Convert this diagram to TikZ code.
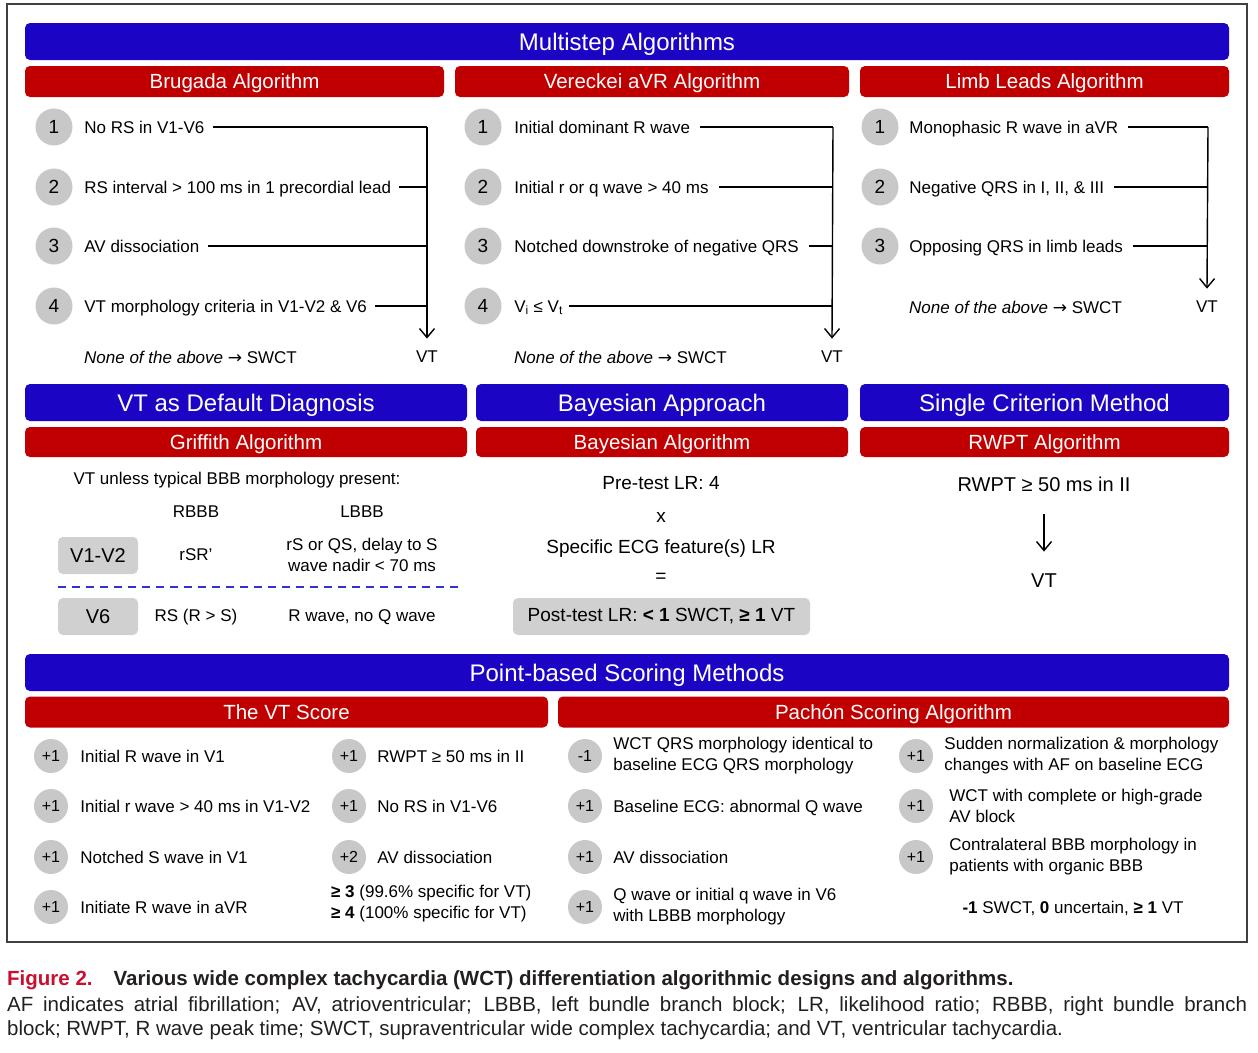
\documentclass[tikz,border=0pt]{standalone}
\usepackage{fontspec}
\setmainfont{Liberation Sans}
\newfontfamily\arrowfont{DejaVu Sans}
\usepackage{tikz}
\usetikzlibrary{arrows.meta,positioning}

\definecolor{bandblue}{RGB}{28,4,196}
\definecolor{algred}{RGB}{192,0,0}
\definecolor{dotgray}{RGB}{200,200,200}
\definecolor{boxgray}{RGB}{208,208,208}
\definecolor{figred}{RGB}{200,16,46}
\definecolor{captext}{RGB}{35,31,32}
\definecolor{sepblue}{RGB}{50,50,210}

\newcommand{\bandfont}{\fontsize{24}{29}\selectfont}
\newcommand{\headfont}{\fontsize{20.5}{24}\selectfont}
\newcommand{\itemfont}{\fontsize{17}{21}\selectfont}
\newcommand{\numfont}{\fontsize{19}{23}\selectfont}
\newcommand{\ptfont}{\fontsize{16}{19}\selectfont}
\newcommand{\bayfont}{\fontsize{19}{23}\selectfont}
\newcommand{\capfont}{\fontsize{20.5}{24.5}\selectfont}
\newcommand{\toswct}{{\arrowfont →}\ SWCT}

\begin{document}
\begin{tikzpicture}[
    x=1pt, y=-1pt,
    >={Straight Barb[length=9pt,width=15pt]},
    bandbar/.style={fill=bandblue, rounded corners=5pt, text=white, font=\bandfont, minimum height=37pt, inner sep=0pt, text height=17.2pt, text depth=0pt},
    algbar/.style={fill=algred, rounded corners=5pt, text=white, font=\headfont, minimum height=31pt, inner sep=0pt, text height=14.7pt, text depth=0pt},
    numdot/.style={circle, fill=dotgray, minimum size=37pt, inner sep=0pt, font=\numfont},
    ptdot/.style={circle, fill=dotgray, minimum size=34pt, inner sep=0pt, font=\ptfont},
    crit/.style={font=\itemfont, inner sep=0pt, anchor=west, text height=12.2pt, text depth=0pt},
    crit2/.style={font=\itemfont, inner sep=0pt, anchor=west, align=left},
    plain/.style={font=\itemfont, align=center},
    bayes/.style={font=\bayfont, align=center},
    lead/.style={fill=boxgray, rounded corners=5pt, minimum width=80pt, minimum height=37pt, font=\fontsize{20}{24}\selectfont},
    link/.style={line width=1.4pt},
    capline/.style={font=\capfont, text=captext, inner sep=0pt, anchor=west},
]
\useasboundingbox (0,0) rectangle (1258,1052);

% Frame
\draw[line width=2pt, draw=black!75] (7,4) rectangle (1247,942);

% Multistep band
\node[bandbar, minimum width=1204pt] (multi) at (627,41.5) {Multistep Algorithms};
\node[algbar, minimum width=419pt] (brugada) at (234.5,81.5) {Brugada Algorithm};
\node[algbar, minimum width=394pt] (vereckei) at (652,81.5) {Vereckei aVR Algorithm};
\node[algbar, minimum width=369pt] (limb) at (1044.5,81.5) {Limb Leads Algorithm};

% Brugada steps
\node[numdot] (b1) at (54,127) {1};
\node[crit, right=11.5pt of b1] (b1t) {No RS in V1-V6};
\node[numdot] (b2) at (54,187) {2};
\node[crit, right=11.5pt of b2] (b2t) {RS interval > 100 ms in 1 precordial lead};
\node[numdot] (b3) at (54,246) {3};
\node[crit, right=11.5pt of b3] (b3t) {AV dissociation};
\node[numdot] (b4) at (54,306) {4};
\node[crit, right=11.5pt of b4] (b4t) {VT morphology criteria in V1-V2 \& V6};
\node[crit] (bnone) at (84,357) {\textit{None of the above} \toswct};
\node[plain] (bvt) at (427,357) {VT};
\coordinate (bjoin) at (427,127);

\draw[link] ([xshift=8pt]b1t.east) -- (bjoin);
\draw[link] ([xshift=8pt]b2t.east) -- (b2t.east -| bjoin);
\draw[link] ([xshift=8pt]b3t.east) -- (b3t.east -| bjoin);
\draw[link] ([xshift=8pt]b4t.east) -- (b4t.east -| bjoin);
\draw[link,->] (bjoin) -- ([yshift=9pt]bvt.north);

% Vereckei steps
\node[numdot] (a1) at (483,127) {1};
\node[crit, right=12.5pt of a1] (a1t) {Initial dominant R wave};
\node[numdot] (a2) at (483,187) {2};
\node[crit, right=12.5pt of a2] (a2t) {Initial r or q wave > 40 ms};
\node[numdot] (a3) at (483,246) {3};
\node[crit, right=12.5pt of a3] (a3t) {Notched downstroke of negative QRS};
\node[numdot] (a4) at (483,306) {4};
\node[crit, right=12.5pt of a4] (a4t) {V\textsubscript{i} ≤ V\textsubscript{t}};
\node[crit] (anone) at (514,357) {\textit{None of the above} \toswct};
\node[plain] (avt) at (832,357) {VT};
\coordinate (ajoin) at (833,127);

\draw[link] ([xshift=10pt]a1t.east) -- (ajoin);
\draw[link] ([xshift=10pt]a2t.east) -- (a2t.east -| ajoin);
\draw[link] ([xshift=10pt]a3t.east) -- (a3t.east -| ajoin);
\draw[link] ([xshift=6pt]a4t.east) -- (a4t.east -| ajoin);
\draw[link,->] (ajoin) -- ([yshift=9pt]avt.north);

% Limb lead steps
\node[numdot] (l1) at (880,127) {1};
\node[crit, right=10.5pt of l1] (l1t) {Monophasic R wave in aVR};
\node[numdot] (l2) at (880,187) {2};
\node[crit, right=10.5pt of l2] (l2t) {Negative QRS in I, II, \& III};
\node[numdot] (l3) at (880,246) {3};
\node[crit, right=10.5pt of l3] (l3t) {Opposing QRS in limb leads};
\node[crit] (lnone) at (909,307) {\textit{None of the above} \toswct};
\node[plain] (lvt) at (1207,307) {VT};
\coordinate (ljoin) at (1208,127);

\draw[link] ([xshift=10pt]l1t.east) -- (ljoin);
\draw[link] ([xshift=10pt]l2t.east) -- (l2t.east -| ljoin);
\draw[link] ([xshift=10pt]l3t.east) -- (l3t.east -| ljoin);
\draw[link,->] (ljoin) -- ([yshift=9pt]lvt.north);

% Second band
\node[bandbar, minimum width=442pt] (default) at (246,402.5) {VT as Default Diagnosis};
\node[bandbar, minimum width=372pt] (bayesian) at (662,402.5) {Bayesian Approach};
\node[bandbar, minimum width=369pt] (single) at (1044.5,402.5) {Single Criterion Method};
\node[algbar, minimum width=442pt, minimum height=30pt] (griffith) at (246,442) {Griffith Algorithm};
\node[algbar, minimum width=372pt, minimum height=30pt] (bayesalg) at (662,442) {Bayesian Algorithm};
\node[algbar, minimum width=369pt, minimum height=30pt] (rwpt) at (1044.5,442) {RWPT Algorithm};

% Griffith table
\node[plain] (gintro) at (237,480) {VT unless typical BBB morphology present:};
\node[plain] (grbbb) at (196,512) {RBBB};
\node[plain] (glbbb) at (362,512) {LBBB};
\node[lead] (gv12) at (98,555.5) {V1-V2};
\node[plain] (grsr) at (196,555) {rSR'};
\node[plain] (glqs) at (362,555) {rS or QS, delay to S\\wave nadir < 70 ms};
\draw[sepblue, line width=1.5pt, dash pattern=on 8pt off 6pt] (58,587) -- (458,587);
\node[lead] (gv6) at (98,616.5) {V6};
\node[plain] (grs) at (196,617) {RS (R > S)};
\node[plain] (glr) at (362,617) {R wave, no Q wave};

% Bayesian
\node[bayes] (bpre) at (661,483) {Pre-test LR: 4};
\node[bayes] (btimes) at (661,517) {x};
\node[bayes] (bfeat) at (661,549) {Specific ECG feature(s) LR};
\node[bayes] (beq) at (661,578) {=};
\node[lead, bayes, minimum width=297pt] (bpost) at (661.5,616.5) {Post-test LR: \textbf{< 1} SWCT, \textbf{≥ 1} VT};

% Single criterion
\node[bayes, font=\fontsize{20}{24}\selectfont] (scrit) at (1044,484) {RWPT ≥ 50 ms in II};
\node[bayes, font=\fontsize{20}{24}\selectfont] (svt) at (1044,581) {VT};
\draw[link,->, shorten <=19pt, shorten >=19pt] (scrit) -- (svt);

% Point-based band
\node[bandbar, minimum width=1204pt] (points) at (627,672.5) {Point-based Scoring Methods};
\node[algbar, minimum width=523pt] (vtscore) at (286.5,712) {The VT Score};
\node[algbar, minimum width=671pt] (pachon) at (893.5,712) {Pachón Scoring Algorithm};

% VT score items
\node[ptdot] (v1) at (51,756) {+1};
\node[crit, right=12pt of v1] (v1t) {Initial R wave in V1};
\node[ptdot] (v2) at (51,806) {+1};
\node[crit, right=12pt of v2] (v2t) {Initial r wave > 40 ms in V1-V2};
\node[ptdot] (v3) at (51,857) {+1};
\node[crit, right=12pt of v3] (v3t) {Notched S wave in V1};
\node[ptdot] (v4) at (51,907) {+1};
\node[crit, right=12pt of v4] (v4t) {Initiate R wave in aVR};
\node[ptdot] (v5) at (349,756) {+1};
\node[crit, right=11pt of v5] (v5t) {RWPT ≥ 50 ms in II};
\node[ptdot] (v6) at (349,806) {+1};
\node[crit, right=11pt of v6] (v6t) {No RS in V1-V6};
\node[ptdot] (v7) at (349,857) {+2};
\node[crit, right=11pt of v7] (v7t) {AV dissociation};
\node[crit2] (vcut) at (331,904) {\textbf{≥ 3} (99.6\% specific for VT)\\\textbf{≥ 4} (100\% specific for VT)};

% Pachon items
\node[ptdot] (p1) at (585,756) {-1};
\node[crit2, right=11pt of p1] (p1t) {WCT QRS morphology identical to\\baseline ECG QRS morphology};
\node[ptdot] (p2) at (585,806) {+1};
\node[crit, right=11pt of p2] (p2t) {Baseline ECG: abnormal Q wave};
\node[ptdot] (p3) at (585,857) {+1};
\node[crit, right=11pt of p3] (p3t) {AV dissociation};
\node[ptdot] (p4) at (585,907) {+1};
\node[crit2, right=11pt of p4] (p4t) {Q wave or initial q wave in V6\\with LBBB morphology};
\node[ptdot] (p5) at (916,756) {+1};
\node[crit2, right=11pt of p5] (p5t) {Sudden normalization \& morphology\\changes with AF on baseline ECG};
\node[ptdot] (p6) at (916,806) {+1};
\node[crit2, right=16pt of p6] (p6t) {WCT with complete or high-grade\\AV block};
\node[ptdot] (p7) at (916,857) {+1};
\node[crit2, right=16pt of p7] (p7t) {Contralateral BBB morphology in\\patients with organic BBB};
\node[plain] (psum) at (1073,908) {\textbf{-1} SWCT, \textbf{0} uncertain, \textbf{≥ 1} VT};

% Caption
\node[capline] (captitle) at (7,980) {\textbf{\textcolor{figred}{Figure 2.}}\hspace{21pt}\textbf{Various wide complex tachycardia (WCT) differentiation algorithmic designs and algorithms.}};
\node[capline] (capone) at (7,1006) {\makebox[1240pt][s]{AF indicates atrial fibrillation; AV, atrioventricular; LBBB, left bundle branch block; LR, likelihood ratio; RBBB, right bundle branch}};
\node[capline] (captwo) at (7,1030) {block; RWPT, R wave peak time; SWCT, supraventricular wide complex tachycardia; and VT, ventricular tachycardia.};

\end{tikzpicture}
\end{document}
